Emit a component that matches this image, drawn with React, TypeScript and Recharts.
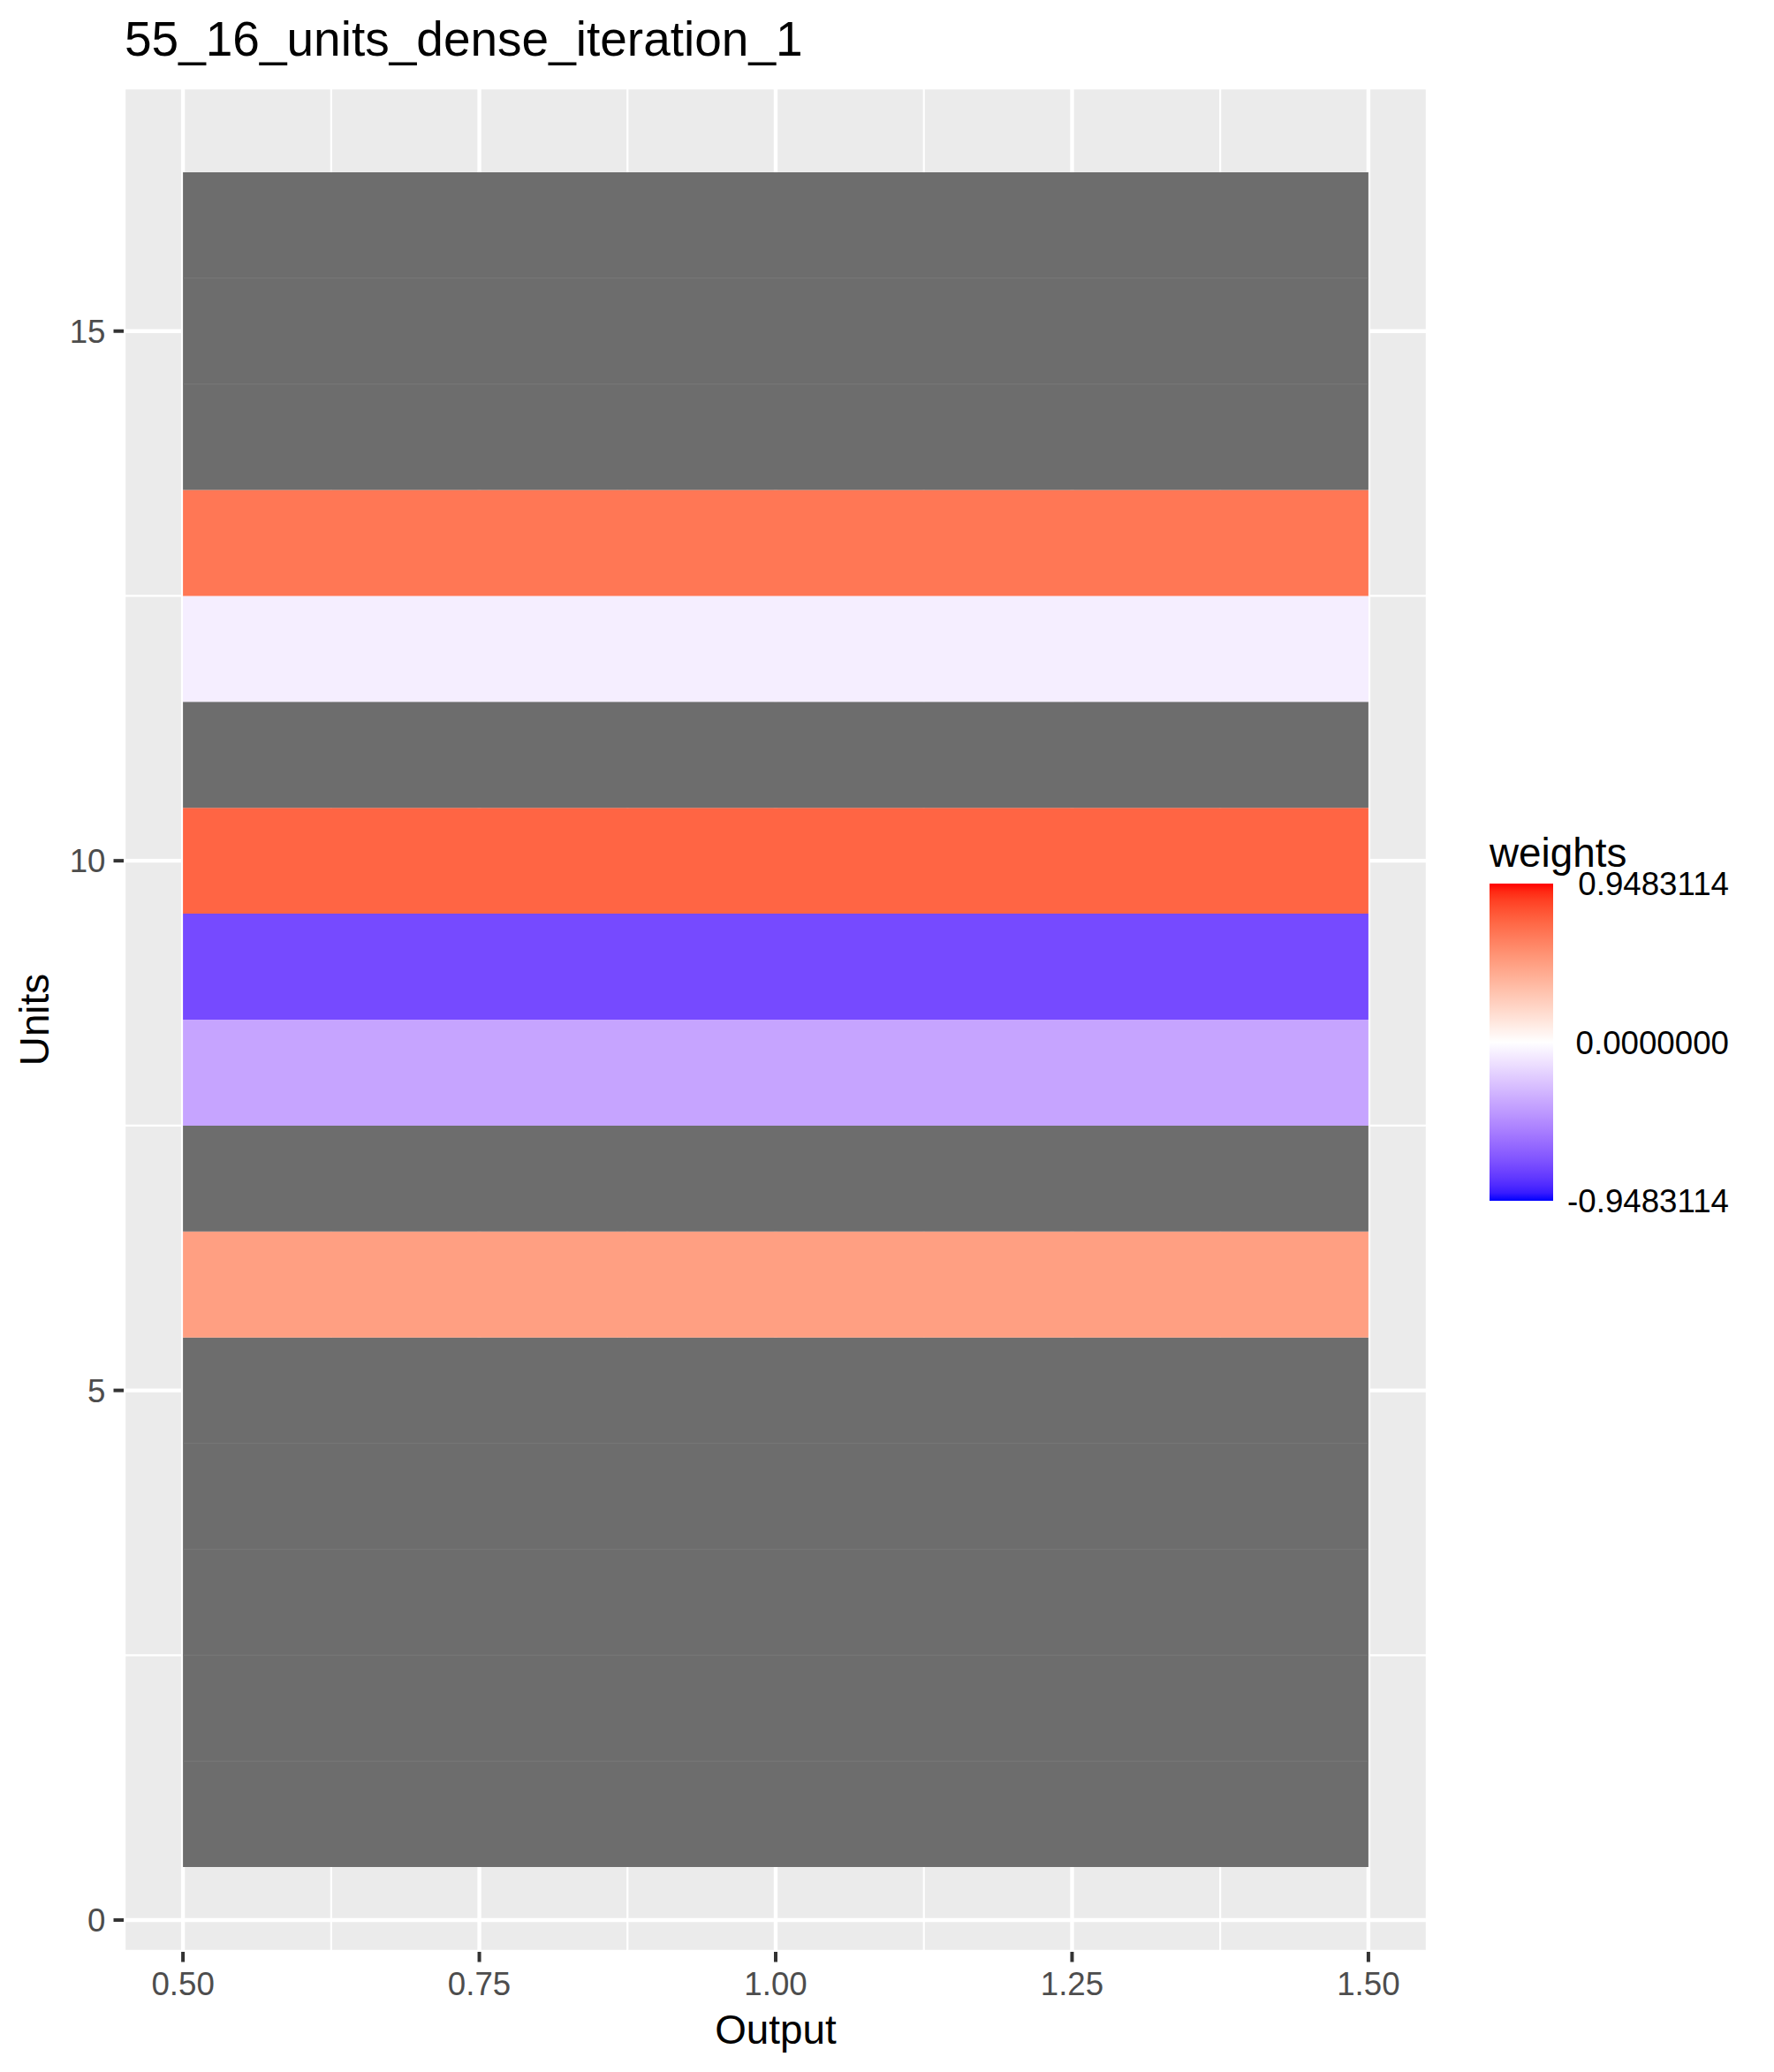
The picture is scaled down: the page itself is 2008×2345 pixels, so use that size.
import { CartesianGrid, ComposedChart, ReferenceArea, ReferenceLine, Scatter, XAxis, YAxis } from "recharts";

const title = "55_16_units_dense_iteration_1";
const units = [1, 2, 3, 4, 5, 6, 7, 8, 9, 10, 11, 12, 13, 14, 15, 16];
// null = no weight (drawn in the NA grey)
const weights: (number | null)[] = [
  null, null, null, null, null, 0.47, null, -0.37,
  -0.74, 0.72, null, -0.07, 0.65, null, null, null,
];
const output = 1;
const xTicks = [0.5, 0.75, 1, 1.25, 1.5];
const xMinor = [0.625, 0.875, 1.125, 1.375];
const yTicks = [0, 5, 10, 15];
const yMinor = [2.5, 7.5, 12.5];
const weightLimit = 0.9483114;
const legendValues = [0.9483114, 0, -0.9483114];

const FONT = "'Liberation Sans', Arial, Helvetica, sans-serif";
const NA_FILL = "#6d6d6d";

// --- Lab interpolation like scales::div_gradient_pal ---
const toLin = (c: number) => {
  const v = c / 255;
  return v <= 0.04045 ? v / 12.92 : Math.pow((v + 0.055) / 1.055, 2.4);
};
const fromLin = (c: number) => {
  const v = c <= 0.0031308 ? 12.92 * c : 1.055 * Math.pow(c, 1 / 2.4) - 0.055;
  return Math.round(Math.min(1, Math.max(0, v)) * 255);
};
const Xn = 0.95047, Zn = 1.08883;
const f = (t: number) => (t > 0.008856 ? Math.cbrt(t) : 7.787 * t + 16 / 116);
const fi = (t: number) => (t > 0.206893 ? t * t * t : (t - 16 / 116) / 7.787);

function hexToLab(hex: string) {
  const r = toLin(parseInt(hex.slice(1, 3), 16));
  const g = toLin(parseInt(hex.slice(3, 5), 16));
  const b = toLin(parseInt(hex.slice(5, 7), 16));
  const X = 0.4124 * r + 0.3576 * g + 0.1805 * b;
  const Y = 0.2126 * r + 0.7152 * g + 0.0722 * b;
  const Z = 0.0193 * r + 0.1192 * g + 0.9505 * b;
  const fx = f(X / Xn), fy = f(Y), fz = f(Z / Zn);
  return [116 * fy - 16, 500 * (fx - fy), 200 * (fy - fz)];
}
function labToHex([L, a, bb]: number[]) {
  const fy = (L + 16) / 116;
  const X = Xn * fi(fy + a / 500);
  const Y = fi(fy);
  const Z = Zn * fi(fy - bb / 200);
  const r = 3.2406 * X - 1.5372 * Y - 0.4986 * Z;
  const g = -0.9689 * X + 1.8758 * Y + 0.0415 * Z;
  const b = 0.0557 * X - 0.204 * Y + 1.057 * Z;
  return "#" + [r, g, b].map((c) => fromLin(c).toString(16).padStart(2, "0")).join("");
}
const LOW = hexToLab("#0000ff");
const MID = hexToLab("#ffffff");
const HIGH = hexToLab("#ff0000");
const fillFor = (w: number | null) => {
  if (w === null) return NA_FILL;
  const t = Math.max(-1, Math.min(1, w / weightLimit));
  const end = t >= 0 ? HIGH : LOW;
  const k = Math.abs(t);
  return labToHex(MID.map((m, i) => m + (end[i] - m) * k));
};

const tiles = units.map((u, i) => ({ unit: u, output, weight: weights[i] }));

// plot geometry
const W = 2008, H = 2345;
const margin = { top: 99, right: 392, bottom: 36, left: 40 };

// legend geometry
const barX = 1686, barY = 1000, barW = 72, barH = 359;
const gradStops = Array.from({ length: 41 }, (_, i) => {
  const v = weightLimit - (i / 40) * 2 * weightLimit;
  return { offset: i / 40, color: fillFor(v) };
});

const tickStyle = { fill: "#4d4d4d", fontSize: 36.7, fontFamily: FONT };

export default function App() {
  return (
    <div style={{ position: "absolute", left: 0, top: 0, width: W, height: H, background: "#fff" }}>
      <ComposedChart width={W} height={H} data={tiles} margin={margin}>
        <CartesianGrid fill="#ebebeb" fillOpacity={1} stroke="#ffffff" strokeWidth={4.4} />
        <XAxis
          dataKey="output"
          type="number"
          domain={[0.45, 1.55]}
          ticks={xTicks}
          interval={0}
          allowDataOverflow
          tickFormatter={(v: number) => v.toFixed(2)}
          axisLine={false}
          tickLine={{ stroke: "#333333", strokeWidth: 4 }}
          tickSize={11.5}
          tickMargin={11}
          tick={tickStyle}
          height={100}
        />
        <YAxis
          dataKey="unit"
          type="number"
          domain={[-0.3, 17.3]}
          ticks={yTicks}
          interval={0}
          allowDataOverflow
          axisLine={false}
          tickLine={{ stroke: "#333333", strokeWidth: 4 }}
          tickSize={11.5}
          tickMargin={9}
          tick={tickStyle}
          width={100}
        />
        {xMinor.map((x) => (
          <ReferenceLine key={`xm${x}`} x={x} stroke="#ffffff" strokeWidth={2.2} zIndex={-90} />
        ))}
        {yMinor.map((y) => (
          <ReferenceLine key={`ym${y}`} y={y} stroke="#ffffff" strokeWidth={2.2} zIndex={-90} />
        ))}
        {tiles.map((t) => (
          <ReferenceArea
            key={`t${t.unit}`}
            x1={t.output - 0.5}
            x2={t.output + 0.5}
            y1={t.unit - 0.5}
            y2={t.unit + 0.5}
            fill={fillFor(t.weight)}
            fillOpacity={1}
            stroke="none"
          />
        ))}
        {tiles.slice(0, -1).map((t, i) =>
          t.weight === null && tiles[i + 1].weight === null ? (
            <ReferenceLine
              key={`s${t.unit}`}
              segment={[
                { x: t.output - 0.5, y: t.unit + 0.5 },
                { x: t.output + 0.5, y: t.unit + 0.5 },
              ]}
              stroke="#757575"
              strokeWidth={1.5}
            />
          ) : null
        )}
        <Scatter dataKey="unit" isAnimationActive={false} shape={() => <g />} />
      </ComposedChart>

      <svg
        width={W}
        height={H}
        style={{ position: "absolute", left: 0, top: 0, pointerEvents: "none" }}
        fontFamily={FONT}
      >
        <defs>
          <linearGradient id="wgrad" x1="0" y1="0" x2="0" y2="1">
            {gradStops.map((s) => (
              <stop key={s.offset} offset={s.offset} stopColor={s.color} />
            ))}
          </linearGradient>
        </defs>
        <text x={141} y={63} fontSize={55} fill="#000">{title}</text>
        <text x={878} y={2313} fontSize={45.8} fill="#000" textAnchor="middle">Output</text>
        <text x={55} y={1154} fontSize={45.8} fill="#000" textAnchor="middle" transform="rotate(-90 55 1154)">
          Units
        </text>
        <text x={barX} y={981} fontSize={45.8} fill="#000">weights</text>
        <rect x={barX} y={barY} width={barW} height={barH} fill="url(#wgrad)" />
        {legendValues.map((v) => (
          <text
            key={v}
            x={1957}
            y={barY + ((weightLimit - v) / (2 * weightLimit)) * barH + 13}
            fontSize={36.7}
            fill="#000"
            textAnchor="end"
          >
            {v.toFixed(7)}
          </text>
        ))}
      </svg>
    </div>
  );
}
